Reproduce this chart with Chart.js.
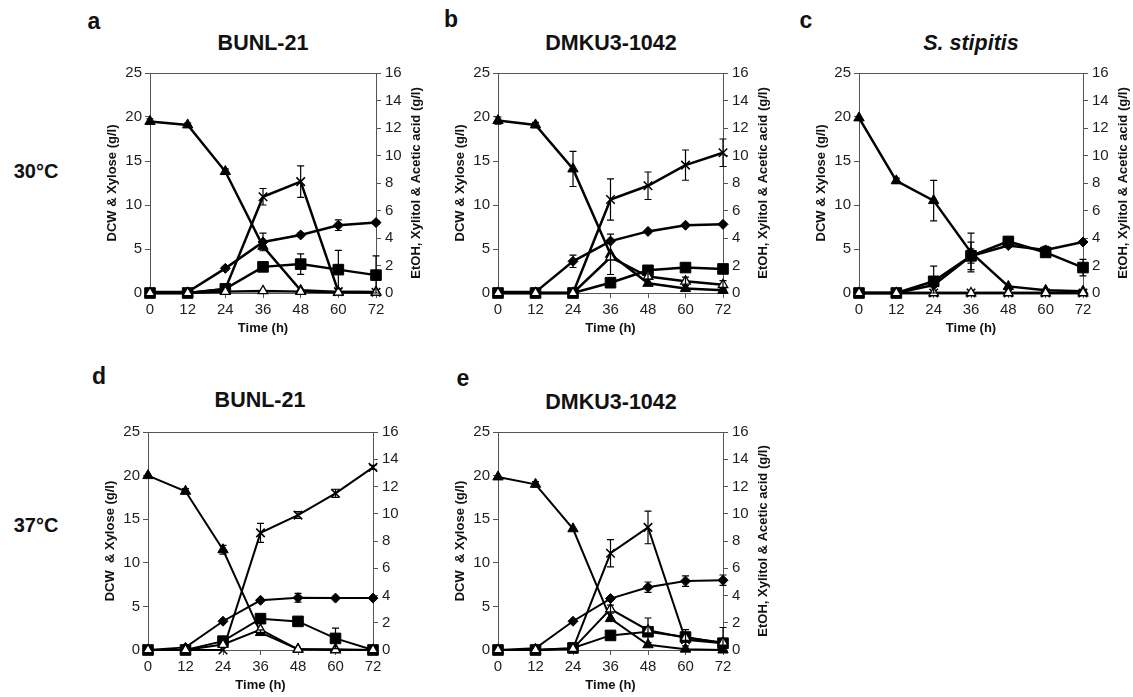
<!DOCTYPE html>
<html>
<head>
<meta charset="utf-8">
<script src="https://cdn.jsdelivr.net/npm/chart.js@4.4.0/dist/chart.umd.min.js"></script>
<style>
  body { margin: 0; background: #fff; width: 1133px; height: 697px; overflow: hidden; position: relative;
         font-family: "Liberation Sans", Arial, sans-serif; color: #111; }
  canvas { position: absolute; }
  .t { position: absolute; font-weight: bold; white-space: nowrap; transform: translate(-50%, -50%); }
  .letter { font-size: 23px; }
  .title { font-size: 21.5px; }
  .temp { font-size: 20px; }
</style>
</head>
<body>
<div class="t letter" style="left:94px;top:21px">a</div>
<div class="t letter" style="left:451px;top:19px">b</div>
<div class="t letter" style="left:806px;top:20px">c</div>
<div class="t letter" style="left:99px;top:376px">d</div>
<div class="t letter" style="left:463px;top:378px">e</div>

<div class="t title" style="left:263px;top:43px">BUNL-21</div>
<div class="t title" style="left:611px;top:43px">DMKU3-1042</div>
<div class="t title" style="left:971px;top:43px;font-style:italic">S. stipitis</div>
<div class="t title" style="left:260px;top:400px">BUNL-21</div>
<div class="t title" style="left:611px;top:402px">DMKU3-1042</div>

<div class="t temp" style="left:36px;top:171px">30°C</div>
<div class="t temp" style="left:36px;top:525px">37°C</div>

<canvas id="pa"></canvas>
<canvas id="pb"></canvas>
<canvas id="pc"></canvas>
<canvas id="pd"></canvas>
<canvas id="pe"></canvas>

<script>
// time points (h)
const time = [0, 12, 24, 36, 48, 60, 72];

// axis ranges
const leftMax = 25, leftStep = 5;
const rightMax = 16, rightStep = 2;
const timeMax = 72, timeStep = 12;

// a: BUNL-21, 30°C
const xyloseA    = [19.5, 19.1, 13.8, 5.3, 0.3, 0.1, 0.1];
const dcwA       = [0.1, 0.1, 2.8, 5.8, 6.6, 7.7, 8.0];
const ethanolA   = [0, 0, 0.3, 1.9, 2.1, 1.7, 1.3];
const xylitolA   = [0, 0, 0.3, 7.0, 8.1, 0.1, 0.05];
const aceticA    = [0, 0, 0.1, 0.15, 0.1, 0.05, 0.05];
const xyloseErrA  = [0.3, 0.2, 0.3, 0, 0, 0, 0];
const dcwErrA     = [0, 0, 0.2, 1.0, 0.2, 0.6, 0.2];
const ethanolErrA = [0, 0, 0, 0.2, 0.75, 1.4, 1.4];
const xylitolErrA = [0, 0, 0, 0.6, 1.15, 0, 0];

// b: DMKU3-1042, 30°C
const xyloseB    = [19.6, 19.1, 14.1, 4.4, 1.1, 0.5, 0.3];
const dcwB       = [0.1, 0.1, 3.6, 5.9, 7.0, 7.7, 7.8];
const ethanolB   = [0, 0, 0, 0.75, 1.65, 1.85, 1.75];
const xylitolB   = [0, 0, 0, 6.8, 7.8, 9.3, 10.2];
const aceticB    = [0, 0, 0, 2.6, 1.2, 0.85, 0.6];
const xyloseErrB  = [0.4, 0.3, 2.0, 2.3, 0, 0, 0];
const dcwErrB     = [0, 0, 0.7, 0, 0, 0, 0];
const xylitolErrB = [0, 0, 0, 1.5, 1.0, 1.1, 1.0];
const aceticErrB  = [0, 0, 0, 0, 0.2, 0.3, 0.3];

// c: S. stipitis, 30°C
const xyloseC    = [19.9, 12.75, 10.5, 4.6, 0.75, 0.3, 0.2];
const dcwC       = [0, 0, 0.9, 4.2, 5.4, 4.9, 5.8];
const ethanolC   = [0, 0, 0.85, 2.7, 3.75, 2.95, 1.85];
const xylitolC   = [0, 0, 0, 0, 0, 0, 0];
const aceticC    = [0, 0, 0, 0, 0, 0, 0];
const xyloseErrC  = [0, 0.3, 2.3, 2.2, 0, 0, 0];
const dcwErrC     = [0, 0, 0, 0.8, 0, 0.4, 0];
const ethanolErrC = [0, 0, 1.1, 1.0, 0.2, 0.3, 0.6];

// d: BUNL-21, 37°C
const xyloseD    = [20.0, 18.2, 11.5, 2.0, 0.1, 0.1, 0];
const dcwD       = [0, 0.3, 3.3, 5.7, 6.0, 5.95, 5.95];
const ethanolD   = [0, 0, 0.65, 2.3, 2.1, 0.85, 0];
const xylitolD   = [0, 0, 0, 8.6, 9.9, 11.5, 13.4];
const aceticD    = [0, 0, 0.4, 1.5, 0.05, 0, 0];
const xyloseErrD  = [0, 0.3, 0.5, 0.3, 0, 0, 0];
const dcwErrD     = [0, 0, 0, 0, 0.5, 0, 0];
const ethanolErrD = [0, 0, 0, 0, 0.1, 0.75, 0];
const xylitolErrD = [0, 0, 0, 0.7, 0.25, 0.3, 0.15];

// e: DMKU3-1042, 37°C
const xyloseE    = [19.85, 19.0, 13.9, 3.6, 0.6, 0.1, 0];
const dcwE       = [0, 0.2, 3.3, 5.9, 7.2, 7.9, 8.0];
const ethanolE   = [0, 0, 0.15, 1.07, 1.34, 0.95, 0.5];
const xylitolE   = [0, 0, 0.1, 7.1, 9.0, 0.75, 0.5];
const aceticE    = [0, 0, 0.1, 3.0, 1.45, 0.9, 0.55];
const xyloseErrE  = [0, 0.3, 0, 0, 0, 0, 0];
const dcwErrE     = [0, 0, 0, 0, 0.6, 0.6, 0.6];
const xylitolErrE = [0, 0, 0, 1.0, 1.2, 0, 0];
const aceticErrE  = [0, 0, 0, 0.3, 0.9, 0.6, 1.1];

const LEFT_W = 49, RIGHT_W = 52, BOTTOM_H = 47, TOP_PAD = 12;
const axisColor = '#555';
const tickColor = '#1e1e1e';

// top frame line, error bars, right title (reads bottom-to-top like the left one)
const extras = {
  id: 'extras',
  afterDatasetsDraw(chart, args, opts) {
    const { ctx, chartArea: a } = chart;
    ctx.save();
    ctx.strokeStyle = axisColor;
    ctx.lineWidth = 1;
    ctx.beginPath();
    ctx.moveTo(a.left, a.top + 0.5);
    ctx.lineTo(a.right, a.top + 0.5);
    ctx.stroke();

    ctx.strokeStyle = '#000';
    ctx.lineWidth = 1.2;
    chart.data.datasets.forEach((ds, i) => {
      if (!ds.errors) return;
      const sc = chart.scales[ds.yAxisID];
      chart.getDatasetMeta(i).data.forEach((p, j) => {
        const e = ds.errors[j];
        if (!e) return;
        const v = ds.data[j].y;
        const y1 = sc.getPixelForValue(v + e);
        const y2 = sc.getPixelForValue(Math.max(0, v - e));
        ctx.beginPath();
        ctx.moveTo(p.x, y1); ctx.lineTo(p.x, y2);
        ctx.moveTo(p.x - 3.5, y1); ctx.lineTo(p.x + 3.5, y1);
        ctx.moveTo(p.x - 3.5, y2); ctx.lineTo(p.x + 3.5, y2);
        ctx.stroke();
      });
    });
    ctx.restore();
  },
  afterDraw(chart, args, opts) {
    if (!opts.rightTitle) return;
    const { ctx, chartArea: a } = chart;
    ctx.save();
    ctx.translate(a.right + 40, (a.top + a.bottom) / 2);
    ctx.rotate(-Math.PI / 2);
    ctx.font = 'bold 13px "Liberation Sans", Arial, sans-serif';
    ctx.fillStyle = '#111';
    ctx.textAlign = 'center';
    ctx.textBaseline = 'middle';
    ctx.fillText(opts.rightTitle, 0, 0);
    ctx.restore();
  }
};

function pts(vals) {
  return time.map((t, i) => ({ x: t, y: vals[i] }));
}

function buildPanel(id, box, s, opt) {
  const canvas = document.getElementById(id);
  canvas.width = LEFT_W + box.w + RIGHT_W;
  canvas.height = TOP_PAD + box.h + BOTTOM_H;
  canvas.style.left = (box.x - LEFT_W) + 'px';
  canvas.style.top = (box.y - TOP_PAD) + 'px';

  const line = (vals, errs, style, r, fill, axis, bw) => ({
    data: pts(vals),
    errors: errs,
    yAxisID: axis,
    pointStyle: style,
    pointRadius: r,
    pointBackgroundColor: fill,
    pointBorderColor: '#000',
    pointBorderWidth: bw,
    borderColor: '#000',
    borderWidth: opt.lineWidth,
    tension: 0,
    fill: false,
    clip: 12
  });

  const tickFont = { size: 15, family: '"Liberation Sans", Arial, sans-serif' };
  const titleFont = { size: 13, weight: 'bold', family: '"Liberation Sans", Arial, sans-serif' };

  new Chart(canvas, {
    type: 'line',
    data: {
      datasets: [
        line(s.acetic, s.aceticErr, 'triangle', 5.5, '#fff', 'y1', 1.3),
        line(s.xylitol, s.xylitolErr, 'crossRot', 6, '#000', 'y1', 1.6),
        line(s.dcw, s.dcwErr, 'rectRot', 5, '#000', 'y', 1),
        line(s.xylose, s.xyloseErr, 'triangle', 6, '#000', 'y', 1),
        line(s.ethanol, s.ethanolErr, 'rect', 7.5, '#000', 'y1', 1)
      ]
    },
    options: {
      responsive: false,
      animation: false,
      devicePixelRatio: 1,
      layout: { padding: { top: TOP_PAD, left: 0, right: 0, bottom: 0 } },
      plugins: {
        legend: { display: false },
        tooltip: { enabled: false },
        extras: { rightTitle: opt.rightTitle }
      },
      scales: {
        x: {
          type: 'linear', min: 0, max: timeMax,
          ticks: { stepSize: timeStep, color: tickColor, font: tickFont, padding: 3, maxRotation: 0 },
          grid: { drawOnChartArea: false, tickLength: 5, color: axisColor },
          border: { color: axisColor },
          title: { display: true, text: 'Time (h)', color: '#111', font: titleFont, padding: { top: 0, bottom: 4 } },
          afterFit: sc => { sc.height = BOTTOM_H; }
        },
        y: {
          position: 'left', min: 0, max: leftMax,
          ticks: { stepSize: leftStep, color: tickColor, font: tickFont, padding: 3 },
          grid: { drawOnChartArea: false, tickLength: 5, color: axisColor },
          border: { color: axisColor },
          title: { display: true, text: opt.leftTitle, color: '#111', font: titleFont, padding: { top: 4, bottom: 0 } },
          afterFit: sc => { sc.width = LEFT_W; }
        },
        y1: {
          position: 'right', min: 0, max: rightMax,
          ticks: { stepSize: rightStep, color: tickColor, font: tickFont, padding: 4 },
          grid: { drawOnChartArea: false, tickLength: 5, color: axisColor },
          border: { color: axisColor },
          afterFit: sc => { sc.width = RIGHT_W; }
        }
      }
    },
    plugins: [extras]
  });
}

const rightTitle = 'EtOH, Xylitol & Acetic acid (g/l)';

buildPanel('pa', { x: 150, y: 72, w: 226, h: 221 },
  { xylose: xyloseA, dcw: dcwA, ethanol: ethanolA, xylitol: xylitolA, acetic: aceticA,
    xyloseErr: xyloseErrA, dcwErr: dcwErrA, ethanolErr: ethanolErrA, xylitolErr: xylitolErrA },
  { leftTitle: 'DCW & Xylose (g/l)', rightTitle: rightTitle, lineWidth: 2.5 });

buildPanel('pb', { x: 498, y: 72, w: 225, h: 221 },
  { xylose: xyloseB, dcw: dcwB, ethanol: ethanolB, xylitol: xylitolB, acetic: aceticB,
    xyloseErr: xyloseErrB, dcwErr: dcwErrB, xylitolErr: xylitolErrB, aceticErr: aceticErrB },
  { leftTitle: 'DCW & Xylose (g/l)', rightTitle: rightTitle, lineWidth: 2.5 });

buildPanel('pc', { x: 859, y: 72, w: 224, h: 221 },
  { xylose: xyloseC, dcw: dcwC, ethanol: ethanolC, xylitol: xylitolC, acetic: aceticC,
    xyloseErr: xyloseErrC, dcwErr: dcwErrC, ethanolErr: ethanolErrC },
  { leftTitle: 'DCW & Xylose (g/l)', rightTitle: rightTitle, lineWidth: 2.5 });

buildPanel('pd', { x: 148, y: 431, w: 225, h: 219 },
  { xylose: xyloseD, dcw: dcwD, ethanol: ethanolD, xylitol: xylitolD, acetic: aceticD,
    xyloseErr: xyloseErrD, dcwErr: dcwErrD, ethanolErr: ethanolErrD, xylitolErr: xylitolErrD },
  { leftTitle: 'DCW  & Xylose (g/l)', rightTitle: '', lineWidth: 2 });

buildPanel('pe', { x: 498, y: 431, w: 225, h: 219 },
  { xylose: xyloseE, dcw: dcwE, ethanol: ethanolE, xylitol: xylitolE, acetic: aceticE,
    xyloseErr: xyloseErrE, dcwErr: dcwErrE, xylitolErr: xylitolErrE, aceticErr: aceticErrE },
  { leftTitle: 'DCW  & Xylose (g/l)', rightTitle: rightTitle, lineWidth: 2 });
</script>
</body>
</html>
